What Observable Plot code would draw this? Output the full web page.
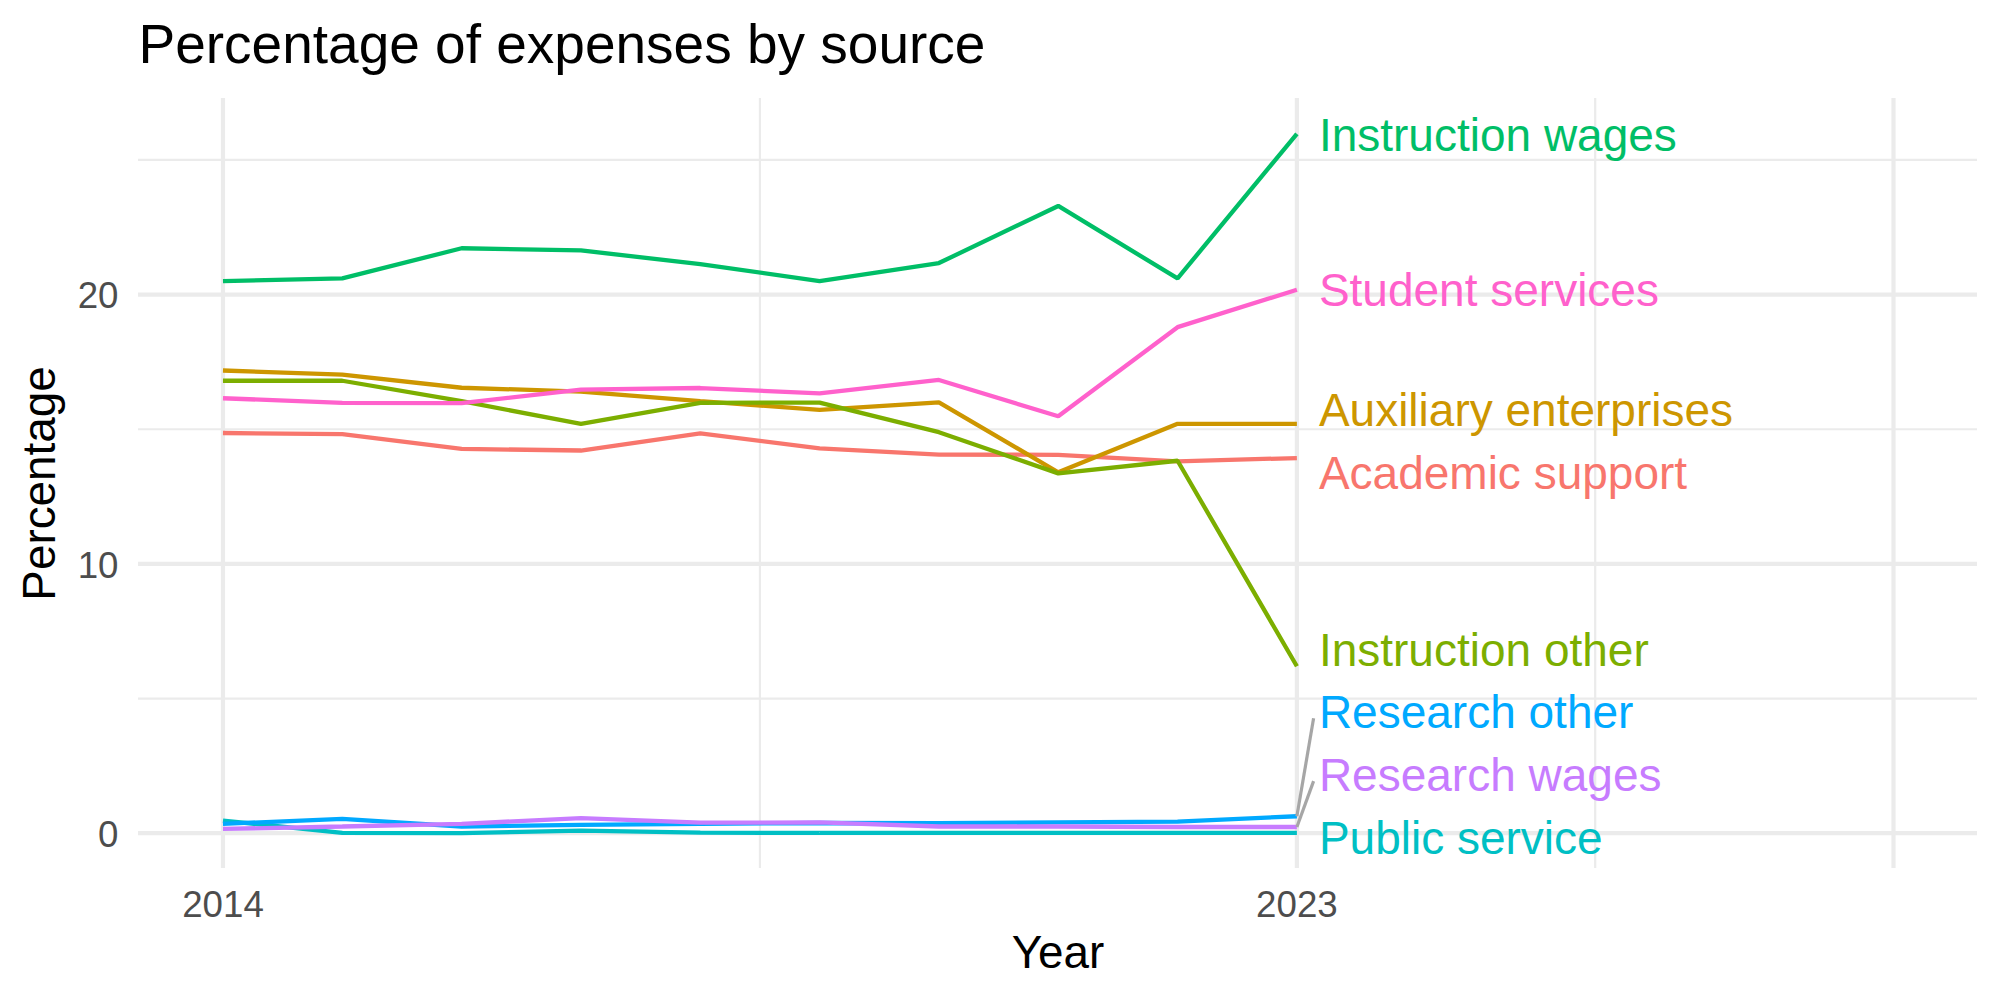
<!DOCTYPE html>
<html>
<head>
<meta charset="utf-8">
<script src="https://cdn.jsdelivr.net/npm/d3@7"></script>
<script src="https://cdn.jsdelivr.net/npm/@observablehq/plot@0.6"></script>
<style>
  html, body { margin: 0; padding: 0; background: #ffffff; }
  #chart svg { display: block; }
</style>
</head>
<body>
<div id="chart"></div>
<script>
// ---- Data ----
const years = [2014, 2015, 2016, 2017, 2018, 2019, 2020, 2021, 2022, 2023];
const categories = [
  "Academic support", "Auxiliary enterprises", "Instruction other", "Instruction wages",
  "Public service", "Research other", "Research wages", "Student services"
];
const academicSupport      = [14.86, 14.82, 14.27, 14.21, 14.85, 14.29, 14.06, 14.05, 13.81, 13.93];
const auxiliaryEnterprises = [17.18, 17.03, 16.54, 16.40, 16.04, 15.72, 16.00, 13.40, 15.20, 15.20];
const instructionOther     = [16.80, 16.80, 16.04, 15.20, 15.98, 15.99, 14.89, 13.36, 13.83, 6.20];
const instructionWages     = [20.50, 20.60, 21.72, 21.64, 21.13, 20.50, 21.17, 23.29, 20.60, 25.97];
const publicService        = [0.47, 0.01, 0.00, 0.10, 0.02, 0.01, 0.01, 0.01, 0.01, 0.01];
const researchOther        = [0.35, 0.53, 0.25, 0.31, 0.35, 0.38, 0.37, 0.40, 0.43, 0.63];
const researchWages        = [0.16, 0.25, 0.35, 0.56, 0.39, 0.40, 0.25, 0.25, 0.23, 0.23];
const studentServices      = [16.15, 15.98, 15.97, 16.47, 16.53, 16.33, 16.83, 15.48, 18.79, 20.18];
const seriesValues = [academicSupport, auxiliaryEnterprises, instructionOther, instructionWages,
                      publicService, researchOther, researchWages, studentServices];
const palette = ["#F8766D", "#CD9600", "#7CAE00", "#00BE67", "#00BFC4", "#00A9FF", "#C77CFF", "#FF61CC"];

const xTickYears = [2014, 2023];
const xMajorGrid = [2014, 2023, 2028];
const xMinorGrid = [2018.5, 2025.5];
const yTicks = [0, 10, 20];
const yMinorGrid = [5, 15, 25];

const titleText = "Percentage of expenses by source";
const xTitle = "Year";
const yTitle = "Percentage";

// ---- Build table ----
const rows = [];
categories.forEach((c, i) => years.forEach((yr, j) => rows.push({source: c, year: yr, value: seriesValues[i][j]})));

// ---- Simple label repel (like ggrepel) ----
const xDomain = [2013.292, 2028.704];
const yDomain = [-1.31, 27.28];
const labelGap = 2.33;
const lastYear = years[years.length - 1];
const ends = categories.map((c, i) => ({source: c, value: seriesValues[i][years.length - 1]}))
  .sort((a, b) => a.value - b.value);
ends.forEach(e => e.pos = e.value);
const floorPos = yDomain[0] + labelGap / 2;
for (let it = 0; it < 2000; it++) {
  for (let i = 1; i < ends.length; i++) {
    const gap = ends[i].pos - ends[i - 1].pos;
    if (gap < labelGap) {
      const d = (labelGap - gap) / 2;
      ends[i].pos += d;
      ends[i - 1].pos -= d;
    }
  }
  if (ends[0].pos < floorPos) ends[0].pos = floorPos;
}
const segmentReach = 0.14; // years to the label edge
const segs = ends.filter(e => Math.abs(e.pos - e.value) > 1.0);

const grid = "#EBEBEB";
const tickColor = "#4D4D4D";

const chart = Plot.plot({
  width: 2000,
  height: 1000,
  marginLeft: 138,
  marginRight: 23,
  marginTop: 98,
  marginBottom: 132,
  x: {domain: xDomain, axis: null},
  y: {domain: yDomain, axis: null},
  color: {domain: categories, range: palette},
  style: {fontFamily: "'Liberation Sans', Arial, Helvetica, sans-serif", background: "#ffffff", overflow: "visible"},
  marks: [
    Plot.ruleY(yMinorGrid, {stroke: grid, strokeWidth: 2.2}),
    Plot.ruleX(xMinorGrid, {stroke: grid, strokeWidth: 2.2}),
    Plot.ruleY(yTicks, {stroke: grid, strokeWidth: 4.2}),
    Plot.ruleX(xMajorGrid, {stroke: grid, strokeWidth: 4.2}),
    Plot.line(rows, {x: "year", y: "value", z: "source", stroke: "source", strokeWidth: 4.3,
                     strokeLinejoin: "miter", strokeLinecap: "butt"}),
    Plot.link(segs, {x1: () => lastYear, y1: "value", x2: () => lastYear + segmentReach, y2: d => d.pos - 0.25,
                     stroke: "#A6A6A6", strokeWidth: 3.2}),
    Plot.text(ends, {x: () => lastYear, y: "pos", text: "source", fill: "source", dx: 22, dy: 2,
                     textAnchor: "start", fontSize: 46}),
    // tick labels
    Plot.text(xTickYears, {x: d => d, text: d => String(d), frameAnchor: "bottom", lineAnchor: "top",
                           dy: 22, fontSize: 36.7, fill: tickColor}),
    Plot.text(yTicks, {y: d => d, text: d => String(d), frameAnchor: "left", textAnchor: "end",
                       dx: -20, dy: 2, fontSize: 36.7, fill: tickColor}),
    // axis titles
    Plot.text([xTitle], {frameAnchor: "bottom", lineAnchor: "top", dy: 67, fontSize: 45.8, fill: "#000000"}),
    Plot.text([yTitle], {frameAnchor: "left", textAnchor: "middle", lineAnchor: "top", rotate: -90, dx: -116,
                         fontSize: 45.8, fill: "#000000"}),
    // title
    Plot.text([titleText], {frameAnchor: "top-left", textAnchor: "start", lineAnchor: "top", dy: -75,
                            fontSize: 55, fill: "#000000"})
  ]
});
document.getElementById("chart").appendChild(chart);
</script>
</body>
</html>
